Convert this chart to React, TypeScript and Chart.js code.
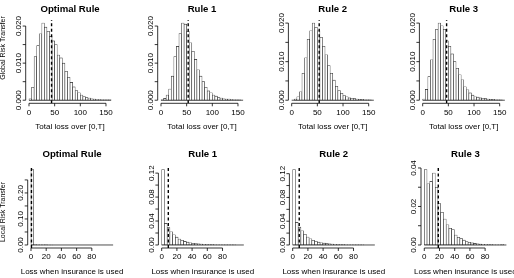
import { useEffect, useRef } from "react";
import { Chart, registerables } from "chart.js";

Chart.register(...registerables);

const FONT = '"Liberation Sans", Arial, Helvetica, sans-serif';
const FIG_W = 514;
const FIG_H = 278;

const ruleTitles = ["Optimal Rule", "Rule 1", "Rule 2", "Rule 3"];

// Total loss over [0,T]: density per bin, bins of width 5 from 0 to 160
const globalBinWidth = 5;
const globalOptimal = [
  0.0004, 0.0035, 0.0118, 0.0147, 0.0179, 0.0208, 0.0197, 0.0186, 0.0172, 0.0160,
  0.0150, 0.0122, 0.0114, 0.0100, 0.0078, 0.0062, 0.0048, 0.0036, 0.0026, 0.0020,
  0.0014, 0.0010, 0.0007, 0.0006, 0.0004, 0.0003, 0.0002, 0.0002, 0.0001, 0.0001,
  0.0001, 0.0001,
];
const globalRule1 = [
  0.0001, 0.0005, 0.0014, 0.0030, 0.0065, 0.0118, 0.0145, 0.0180, 0.0208, 0.0205,
  0.0186, 0.0155, 0.0132, 0.0110, 0.0082, 0.0065, 0.0050, 0.0035, 0.0025, 0.0020,
  0.0014, 0.0011, 0.0007, 0.0006, 0.0004, 0.0003, 0.0003, 0.0002, 0.0001, 0.0001,
  0.0001, 0.0000,
];
const globalRule2 = [
  0.0000, 0.0003, 0.0009, 0.0022, 0.0070, 0.0110, 0.0158, 0.0180, 0.0200, 0.0189,
  0.0180, 0.0163, 0.0140, 0.0118, 0.0090, 0.0070, 0.0052, 0.0036, 0.0025, 0.0018,
  0.0012, 0.0009, 0.0006, 0.0005, 0.0004, 0.0003, 0.0002, 0.0002, 0.0001, 0.0001,
  0.0001, 0.0000,
];
const globalRule3 = [
  0.0003, 0.0028, 0.0061, 0.0105, 0.0158, 0.0184, 0.0200, 0.0193, 0.0184, 0.0154,
  0.0140, 0.0120, 0.0100, 0.0083, 0.0066, 0.0053, 0.0035, 0.0027, 0.0019, 0.0013,
  0.0009, 0.0008, 0.0006, 0.0005, 0.0004, 0.0003, 0.0002, 0.0002, 0.0001, 0.0001,
  0.0001, 0.0000,
];
const globalMeans = [44, 53, 53.6, 46.6];

// Loss when insurance is used: density per bin, bins of width 3.6 from 0 to 108
const localBinWidth = 3.6;
const localOptimal = [
  0.290, 0.0012, 0.0006, 0.0004, 0.0003, 0.0002, 0.0001, 0.0001, 0, 0,
  0, 0, 0, 0, 0, 0, 0, 0, 0, 0,
  0, 0, 0, 0, 0, 0, 0, 0, 0, 0,
];
const localRule1 = [
  0.126, 0.036, 0.029, 0.022, 0.017, 0.013, 0.010, 0.0078, 0.0060, 0.0047,
  0.0037, 0.0029, 0.0023, 0.0018, 0.0014, 0.0011, 0.0008, 0.0006, 0.0005, 0.0004,
  0.0003, 0.0002, 0.0002, 0.0001, 0.0001, 0.0001, 0.0001, 0, 0, 0,
];
const localRule2 = [
  0.127, 0.038, 0.030, 0.024, 0.018, 0.0135, 0.0105, 0.0080, 0.0062, 0.0048,
  0.0038, 0.0030, 0.0023, 0.0018, 0.0014, 0.0011, 0.0008, 0.0006, 0.0005, 0.0004,
  0.0003, 0.0002, 0.0002, 0.0001, 0.0001, 0.0001, 0, 0, 0, 0,
];
const localRule3 = [
  0.0392, 0.0318, 0.0330, 0.0374, 0.0300, 0.0215, 0.0170, 0.0135, 0.0105, 0.0087,
  0.0080, 0.0052, 0.0040, 0.0033, 0.0025, 0.0018, 0.0014, 0.0011, 0.0008, 0.0006,
  0.0005, 0.0004, 0.0003, 0.0002, 0.0002, 0.0001, 0.0001, 0.0001, 0.0002, 0,
];
const localMeans = [0.6, 8.7, 8.6, 18.4];

// axis ticks (R draws every tick, but skips labels that would collide)
const globalXTicks = [0, 50, 100, 150];
const localXTicks = [0, 20, 40, 60, 80];
const globalYTicks = [0, 0.005, 0.01, 0.015, 0.02];
const globalYLabelled = [0, 0.01, 0.02];
const localYTicks = [
  [0, 0.05, 0.1, 0.15, 0.2, 0.25],
  [0, 0.02, 0.04, 0.06, 0.08, 0.1, 0.12],
  [0, 0.02, 0.04, 0.06, 0.08, 0.1, 0.12],
  [0, 0.01, 0.02, 0.03, 0.04],
];
const localYLabelled = [
  [0, 0.1, 0.2],
  [0, 0.04, 0.08, 0.12],
  [0, 0.04, 0.08, 0.12],
  [0, 0.02, 0.04],
];

const globalXTitle = "Total loss over [0,T]";
const localXTitle = "Loss when insurance is used";
const globalSideLabel = "Global Risk Transfer";
const localSideLabel = "Local Risk Transfer";

// page layout of the 2 x 4 grid (plot regions in figure pixels)
const PLOT_W = 88.7;
const topRowLayout = {
  top: 20, bottom: 103.3, lefts: [25.7, 157.7, 288.4, 419.4],
  titleY: 9.5, tickLabelY: 112.6, xTitleY: 127, sideLabelY: 48,
};
const bottomRowLayout = {
  top: 166.5, bottom: 248, lefts: [27.7, 158.4, 289.4, 421],
  titleY: 154, tickLabelY: 257, xTitleY: 272, sideLabelY: 212,
};

type PanelProps = {
  values: number[];
  binWidth: number;
  mean: number;
  title: string;
  xTitle: string;
  xTicks: number[];
  yTicks: number[];
  yLabelled: number[];
  yDigits: number;
  row: typeof topRowLayout;
  col: number;
  sideLabel?: string;
};

function HistPanel(props: PanelProps) {
  const ref = useRef<HTMLCanvasElement>(null);

  useEffect(() => {
    const {
      values, binWidth, mean, title, xTitle, xTicks, yTicks, yLabelled, yDigits, row, col, sideLabel,
    } = props;
    const left = row.lefts[col];
    const right = left + PLOT_W;
    const xEnd = values.length * binWidth;
    const yPeak = Math.max(...values);
    const yLo = -0.04 * yPeak;
    const yHi = 1.04 * yPeak;

    const rAxes = {
      id: "rAxes",
      afterDraw(chart: Chart) {
        const ctx = chart.ctx;
        const xs = chart.scales.x;
        const ys = chart.scales.y;
        const a = chart.chartArea;
        const tick = 3;
        ctx.save();
        ctx.strokeStyle = "#000";
        ctx.fillStyle = "#000";
        ctx.lineWidth = 0.8;

        // x axis
        const yAx = a.bottom;
        ctx.beginPath();
        ctx.moveTo(xs.getPixelForValue(xTicks[0]), yAx);
        ctx.lineTo(xs.getPixelForValue(xTicks[xTicks.length - 1]), yAx);
        for (const t of xTicks) {
          const px = xs.getPixelForValue(t);
          ctx.moveTo(px, yAx);
          ctx.lineTo(px, yAx + tick);
        }
        ctx.stroke();
        ctx.font = `8px ${FONT}`;
        ctx.textAlign = "center";
        ctx.textBaseline = "middle";
        for (const t of xTicks) {
          ctx.fillText(String(t), xs.getPixelForValue(t), row.tickLabelY);
        }

        // y axis
        const xAx = a.left;
        ctx.beginPath();
        ctx.moveTo(xAx, ys.getPixelForValue(yTicks[0]));
        ctx.lineTo(xAx, ys.getPixelForValue(yTicks[yTicks.length - 1]));
        for (const t of yTicks) {
          const py = ys.getPixelForValue(t);
          ctx.moveTo(xAx, py);
          ctx.lineTo(xAx - tick, py);
        }
        ctx.stroke();
        for (const t of yLabelled) {
          const py = ys.getPixelForValue(t);
          ctx.save();
          ctx.translate(xAx - 7, py);
          ctx.rotate(-Math.PI / 2);
          ctx.fillText(t.toFixed(yDigits), 0, 0);
          ctx.restore();
        }

        // panel title and axis title
        const cx = (a.left + a.right) / 2;
        ctx.font = `bold 9.6px ${FONT}`;
        ctx.fillText(title, cx, row.titleY);
        ctx.font = `8px ${FONT}`;
        ctx.fillText(xTitle, cx, row.xTitleY);

        // row label on the outer left
        if (sideLabel) {
          ctx.save();
          ctx.translate(3.5, row.sideLabelY);
          ctx.rotate(-Math.PI / 2);
          ctx.font = `7px ${FONT}`;
          ctx.fillText(sideLabel, 0, 0);
          ctx.restore();
        }
        ctx.restore();
      },
    };

    const chart = new Chart(ref.current as HTMLCanvasElement, {
      type: "bar",
      data: {
        datasets: [
          {
            type: "line",
            data: [{ x: mean, y: yLo }, { x: mean, y: yHi }],
            borderColor: "#000",
            borderWidth: 1.4,
            borderDash: [3, 2.5],
            pointRadius: 0,
            order: 0,
          } as any,
          {
            type: "line",
            data: [{ x: 0, y: 0 }, { x: xEnd, y: 0 }],
            borderColor: "#222",
            borderWidth: 0.8,
            pointRadius: 0,
            order: 1,
          } as any,
          {
            type: "bar",
            data: values.map((v, i) => ({ x: (i + 0.5) * binWidth, y: v })),
            backgroundColor: "#ffffff",
            borderColor: "#222",
            borderWidth: 0.6,
            borderSkipped: false,
            barPercentage: 1,
            categoryPercentage: 1,
            order: 2,
          } as any,
        ],
      },
      options: {
        responsive: false,
        animation: false,
        events: [],
        layout: {
          padding: {
            left,
            top: row.top,
            right: FIG_W - right,
            bottom: FIG_H - row.bottom,
          },
        },
        scales: {
          x: { type: "linear", min: -0.04 * xEnd, max: 1.04 * xEnd, display: false, offset: false },
          y: { type: "linear", min: yLo, max: yHi, display: false },
        },
        plugins: { legend: { display: false }, tooltip: { enabled: false } },
      },
      plugins: [rAxes],
    });
    return () => chart.destroy();
  }, []);

  return (
    <canvas
      ref={ref}
      width={FIG_W}
      height={FIG_H}
      style={{ position: "absolute", left: 0, top: 0, width: FIG_W, height: FIG_H }}
    />
  );
}

const globalSeries = [globalOptimal, globalRule1, globalRule2, globalRule3];
const localSeries = [localOptimal, localRule1, localRule2, localRule3];

export default function App() {
  useEffect(() => {
    document.body.style.margin = "0";
  }, []);
  return (
    <div style={{ position: "fixed", left: 0, top: 0, width: FIG_W, height: FIG_H, background: "#fff" }}>
      {globalSeries.map((vals, i) => (
        <HistPanel
          key={`g${i}`}
          values={vals}
          binWidth={globalBinWidth}
          mean={globalMeans[i]}
          title={ruleTitles[i]}
          xTitle={globalXTitle}
          xTicks={globalXTicks}
          yTicks={globalYTicks}
          yLabelled={globalYLabelled}
          yDigits={3}
          row={topRowLayout}
          col={i}
          sideLabel={i === 0 ? globalSideLabel : undefined}
        />
      ))}
      {localSeries.map((vals, i) => (
        <HistPanel
          key={`l${i}`}
          values={vals}
          binWidth={localBinWidth}
          mean={localMeans[i]}
          title={ruleTitles[i]}
          xTitle={localXTitle}
          xTicks={localXTicks}
          yTicks={localYTicks[i]}
          yLabelled={localYLabelled[i]}
          yDigits={2}
          row={bottomRowLayout}
          col={i}
          sideLabel={i === 0 ? localSideLabel : undefined}
        />
      ))}
    </div>
  );
}
